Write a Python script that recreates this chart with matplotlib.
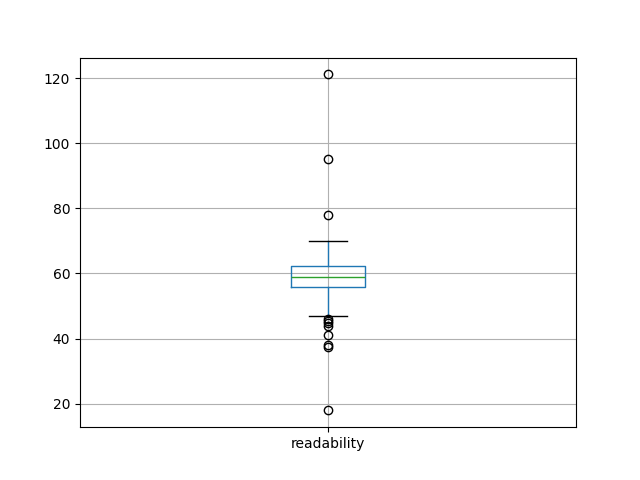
import matplotlib
matplotlib.use("Agg")
import matplotlib.pyplot as plt

label = "readability"
q1 = 55.9
median = 58.8
q3 = 62.2
whisker_low = 47.0
whisker_high = 70.0
fliers = [121.2, 95.1, 77.9, 46.0, 45.4, 44.8, 44.0, 41.0, 38.1, 37.4, 17.9]

stats = [dict(label=label, q1=q1, med=median, q3=q3,
              whislo=whisker_low, whishi=whisker_high, fliers=fliers)]

fig, ax = plt.subplots(figsize=(6.4, 4.8), dpi=100)
ax.bxp(stats,
       boxprops=dict(color="C0"),
       whiskerprops=dict(color="C0"),
       capprops=dict(color="k"),
       medianprops=dict(color="C2"),
       flierprops=dict(marker="o", markerfacecolor="none", markeredgecolor="k"))
ax.grid(True)
fig.savefig("out.png")
